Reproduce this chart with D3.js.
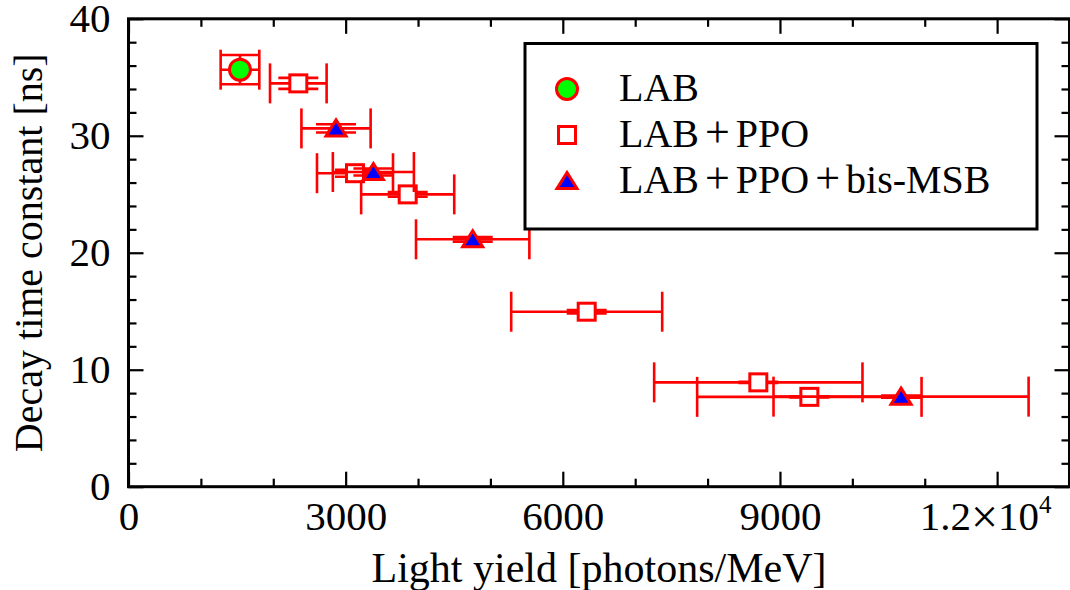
<!DOCTYPE html>
<html>
<head>
<meta charset="utf-8">
<script src="https://cdn.jsdelivr.net/npm/d3@7"></script>
<style>
  html, body { margin: 0; padding: 0; background: #fff; }
  svg { display: block; }
  text { font-family: "Liberation Serif", "Times New Roman", serif; fill: #000; }
</style>
</head>
<body>
<svg id="chart" width="1070" height="590"></svg>
<script>
// Scintillator samples: light yield [photons/MeV] vs decay time constant [ns]
const labX    = [1540];
const labY    = [35.65];
const labXErr = [267];
const labYErr = [1.25];

const ppoX    = [2346, 3129, 3857, 6330, 8701, 9406];
const ppoY    = [34.48, 26.8, 24.99, 14.96, 8.92, 7.68];
const ppoXErr = [391, 525, 643, 1043, 1439, 1550];
const ppoYErr = [0.47, 0.3, 0.2, 0.15, 0.05, 0.05];

const bisX    = [2867, 3383, 4755, 10673];
const bisY    = [30.63, 26.9, 21.15, 7.7];
const bisXErr = [478, 560, 783, 1762];
const bisYErr = [0.35, 0.3, 0.2, 0.1];

const seriesNames = ["LAB", "LAB+PPO", "LAB+PPO+bis-MSB"];
const xMajorTicks = [0, 3000, 6000, 9000, 12000];
const yMajorTicks = [0, 10, 20, 30, 40];

const svg = d3.select("#chart");
const plotLeft = 128.5, plotRight = 1069.5, plotTop = 18.8, plotBottom = 486.7;

const x = d3.scaleLinear().domain([0, 13000]).range([plotLeft, plotRight]);
const y = d3.scaleLinear().domain([0, 40]).range([plotBottom, plotTop]);

const xMinor = d3.range(0, 13001, 1000).filter(v => v % 3000 !== 0);
const yMinor = d3.range(0, 41, 2).filter(v => v % 10 !== 0);

function zip(xs, ys, xe, ye) {
  return xs.map((v, i) => ({ x: v, y: ys[i], xe: xe[i], ye: ye[i] }));
}
const sets = [
  { name: seriesNames[0], shape: "circle",   fill: "#00ff00", data: zip(labX, labY, labXErr, labYErr) },
  { name: seriesNames[1], shape: "square",   fill: "#ffffff", data: zip(ppoX, ppoY, ppoXErr, ppoYErr) },
  { name: seriesNames[2], shape: "triangle", fill: "#0000ff", data: zip(bisX, bisY, bisXErr, bisYErr) }
];

// ---- axes (ticks point into the plot) ----
const fontTick = 41;
function styleAxis(g) {
  g.select(".domain").remove();
  g.selectAll(".tick line").attr("stroke", "#000").attr("stroke-width", 2.2);
  g.selectAll("text").attr("font-size", fontTick).attr("font-family", null);
}

const xAxisG = svg.append("g").attr("transform", `translate(0,${plotBottom})`)
  .call(d3.axisBottom(x).tickValues(xMajorTicks).tickSize(-15).tickPadding(14)
        .tickFormat(d => d === 12000 ? "" : d3.format("d")(d)))
  .call(styleAxis);
// scientific label for the last major tick
xAxisG.selectAll(".tick text").filter(d => d === 12000)
  .attr("dx", -12)
  .each(function () {
    const t = d3.select(this);
    t.append("tspan").text("1.2");
    t.append("tspan").attr("font-size", 48).attr("dy", 3).text("\u00d7");
    t.append("tspan").attr("dy", -3).text("10");
    t.append("tspan").attr("font-size", 25).attr("dy", -17).text("4");
  });
svg.append("g").attr("transform", `translate(0,${plotBottom})`)
  .call(d3.axisBottom(x).tickValues(xMinor).tickSize(-8).tickFormat(""))
  .call(styleAxis);
svg.append("g").attr("transform", `translate(0,${plotTop})`)
  .call(d3.axisTop(x).tickValues(xMajorTicks).tickSize(-15).tickFormat(""))
  .call(styleAxis);
svg.append("g").attr("transform", `translate(0,${plotTop})`)
  .call(d3.axisTop(x).tickValues(xMinor).tickSize(-8).tickFormat(""))
  .call(styleAxis);

svg.append("g").attr("transform", `translate(${plotLeft},0)`)
  .call(d3.axisLeft(y).tickValues(yMajorTicks).tickSize(-15).tickPadding(18))
  .call(styleAxis);
svg.append("g").attr("transform", `translate(${plotLeft},0)`)
  .call(d3.axisLeft(y).tickValues(yMinor).tickSize(-8).tickFormat(""))
  .call(styleAxis);
svg.append("g").attr("transform", `translate(${plotRight},0)`)
  .call(d3.axisRight(y).tickValues(yMajorTicks).tickSize(-15).tickFormat(""))
  .call(styleAxis);
svg.append("g").attr("transform", `translate(${plotRight},0)`)
  .call(d3.axisRight(y).tickValues(yMinor).tickSize(-8).tickFormat(""))
  .call(styleAxis);

// frame
svg.append("rect")
  .attr("x", plotLeft).attr("y", plotTop)
  .attr("width", plotRight - plotLeft).attr("height", plotBottom - plotTop)
  .attr("fill", "none").attr("stroke", "#000").attr("stroke-width", 3);

// axis titles
svg.append("text")
  .attr("x", (plotLeft + plotRight) / 2).attr("y", 582)
  .attr("text-anchor", "middle").attr("font-size", 42)
  .text("Light yield [photons/MeV]");
svg.append("text")
  .attr("transform", `translate(42,${(plotTop + plotBottom) / 2}) rotate(-90)`)
  .attr("text-anchor", "middle").attr("font-size", 40)
  .text("Decay time constant [ns]");

// ---- markers ----
function drawSymbol(sel, shape, fill) {
  if (shape === "circle") {
    sel.append("circle").attr("r", 10.5);
  } else if (shape === "square") {
    sel.append("rect").attr("x", -8.5).attr("y", -8.5).attr("width", 17).attr("height", 17);
  } else {
    sel.append("path").attr("d", "M0,-8.5 L10,7.5 L-10,7.5 Z");
  }
  sel.selectAll("circle,rect,path")
    .attr("fill", fill).attr("stroke", "#ff0000").attr("stroke-width", 3);
}

const CAP = 20; // half-length of error bar caps in px
const plot = svg.append("g");
sets.forEach(s => {
  const g = plot.append("g");
  const eb = g.selectAll("g.err").data(s.data).join("g")
    .attr("class", "err")
    .attr("stroke", "#ff0000").attr("stroke-width", 2.6).attr("fill", "none");
  // horizontal error bar with caps
  eb.append("line")
    .attr("x1", d => x(d.x - d.xe)).attr("x2", d => x(d.x + d.xe))
    .attr("y1", d => y(d.y)).attr("y2", d => y(d.y));
  eb.append("line")
    .attr("x1", d => x(d.x - d.xe)).attr("x2", d => x(d.x - d.xe))
    .attr("y1", d => y(d.y) - CAP).attr("y2", d => y(d.y) + CAP);
  eb.append("line")
    .attr("x1", d => x(d.x + d.xe)).attr("x2", d => x(d.x + d.xe))
    .attr("y1", d => y(d.y) - CAP).attr("y2", d => y(d.y) + CAP);
  // vertical error bar with caps
  eb.append("line")
    .attr("x1", d => x(d.x)).attr("x2", d => x(d.x))
    .attr("y1", d => y(d.y - d.ye)).attr("y2", d => y(d.y + d.ye));
  eb.append("line")
    .attr("x1", d => x(d.x) - CAP).attr("x2", d => x(d.x) + CAP)
    .attr("y1", d => y(d.y + d.ye)).attr("y2", d => y(d.y + d.ye));
  eb.append("line")
    .attr("x1", d => x(d.x) - CAP).attr("x2", d => x(d.x) + CAP)
    .attr("y1", d => y(d.y - d.ye)).attr("y2", d => y(d.y - d.ye));

  g.selectAll("g.sym").data(s.data).join("g")
    .attr("class", "sym")
    .attr("transform", d => `translate(${x(d.x)},${y(d.y)})`)
    .each(function () { drawSymbol(d3.select(this), s.shape, s.fill); });
});

// ---- legend ----
const legend = svg.append("g");
legend.append("rect")
  .attr("x", 525).attr("y", 43.5).attr("width", 512).attr("height", 185.5)
  .attr("fill", "#fff").attr("stroke", "#000").attr("stroke-width", 3);
const rowY = [89, 135, 181];
// series names: the "+" joins are set in a slightly larger glyph
function writeName(textSel, name) {
  name.split("+").forEach((part, k) => {
    if (k > 0) {
      textSel.append("tspan").attr("font-size", 44).attr("dx", 6).text("+");
      textSel.append("tspan").attr("dx", 6).text(part);
    } else {
      textSel.append("tspan").text(part);
    }
  });
}
sets.forEach((s, i) => {
  const item = legend.append("g").attr("transform", `translate(567,${rowY[i]})`);
  drawSymbol(item, s.shape, s.fill);
  const t = legend.append("text")
    .attr("x", 619).attr("y", rowY[i] + 12)
    .attr("font-size", 40);
  writeName(t, s.name);
});
</script>
</body>
</html>
